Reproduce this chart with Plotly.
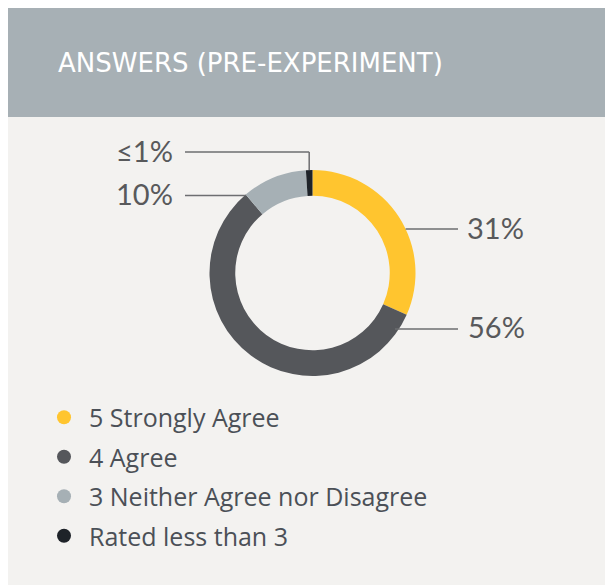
import math
import plotly.graph_objects as go

# ---- data ----
categories = ["5 Strongly Agree", "4 Agree", "3 Neither Agree nor Disagree", "Rated less than 3"]
values = [31, 56, 10, 1]
value_labels = ["31%", "56%", "10%", "≤1%"]
colors = ["#FFC52F", "#55575B", "#A6B0B5", "#1E2329"]
title_text = "ANSWERS (PRE-EXPERIMENT)"

W, H = 613, 585
OFF = 8  # page body margin
FONT = "Lato, 'Open Sans', sans-serif"
FONT2 = "'Open Sans', sans-serif"
FONT_T = "'DejaVu Sans', sans-serif"
TEXT_GRAY = "#58595B"
LINE_GRAY = "#6D6E71"

def px(x):
    return (x - OFF) / W

def py(y):
    return 1 - (y - OFF) / H

# donut geometry (screen pixels)
cx, cy, R = 312.5, 273.0, 103.0

fig = go.Figure()

fig.add_trace(go.Pie(
    labels=categories,
    values=values,
    marker=dict(colors=colors, line=dict(width=0)),
    hole=0.75,
    sort=False,
    direction="clockwise",
    rotation=0,
    textinfo="none",
    hoverinfo="label+percent",
    showlegend=False,
    domain=dict(x=[px(cx - R), px(cx + R)], y=[py(cy + R), py(cy - R)]),
))

# legend entries (circle markers)
for cat, col in zip(categories, colors):
    fig.add_trace(go.Scatter(
        x=[None], y=[None], mode="markers", name=cat,
        legendgroup=cat,
        marker=dict(color=col, size=14, symbol="circle"),
    ))

shapes = [
    dict(type="rect", xref="paper", yref="paper", x0=0, x1=1, y0=py(117), y1=1.01,
         fillcolor="#A7B0B5", line=dict(width=0), layer="below"),
    dict(type="rect", xref="paper", yref="paper", x0=0, x1=1, y0=-0.01, y1=py(117),
         fillcolor="#F3F2F0", line=dict(width=0), layer="below"),
]

total = sum(values)
cum = []
c = 0
for v in values:
    cum.append(c)
    c += v

def ring_point(frac):
    a = 2 * math.pi * frac
    return cx + R * math.sin(a), cy - R * math.cos(a)

annotations = [
    dict(text=title_text, x=px(56), y=py(63), xref="paper", yref="paper",
         xanchor="left", yanchor="middle", showarrow=False,
         font=dict(family=FONT_T, size=26, color="white")),
]

def line(x0, y0, x1, y1):
    return dict(type="line", xref="paper", yref="paper", x0=px(x0), y0=py(y0), x1=px(x1), y1=py(y1),
                line=dict(color=LINE_GRAY, width=1.5))

label_x_right = 458
label_x_left = 185

# 31% : right side
y31 = 229
x_ring = cx + math.sqrt(R ** 2 - (y31 - cy) ** 2)
shapes.append(line(x_ring, y31, label_x_right, y31))
# 56% : right side
y56 = 329
x_ring = cx + math.sqrt(R ** 2 - (y56 - cy) ** 2)
shapes.append(line(x_ring - 4, y56, label_x_right, y56))
# 10% : ends at boundary between 4 Agree and 3 Neither
bx, by = ring_point(cum[2] / total)
shapes.append(line(label_x_left, by + 1, bx, by + 1))
# <=1% : vertical to middle of the small slice
sx, sy = ring_point((cum[3] + values[3] / 2) / total)
y1p = 152
shapes.append(line(label_x_left, y1p, sx, y1p))
shapes.append(line(sx, y1p, sx, sy))

lab_font = dict(family=FONT, size=29, color=TEXT_GRAY)
annotations += [
    dict(text=value_labels[0], x=px(465), y=py(y31 - 2), xanchor="left", yanchor="middle"),
    dict(text=value_labels[1], x=px(466), y=py(y56 - 2), xanchor="left", yanchor="middle"),
    dict(text=value_labels[2], x=px(175), y=py(by - 1), xanchor="right", yanchor="middle"),
    dict(text=value_labels[3], x=px(175), y=py(y1p - 2), xanchor="right", yanchor="middle"),
]
for a in annotations[1:]:
    a.update(xref="paper", yref="paper", showarrow=False, font=lab_font)

fig.update_layout(
    width=W, height=H,
    margin=dict(l=0, r=0, t=0, b=0),
    paper_bgcolor="white",
    plot_bgcolor="rgba(0,0,0,0)",
    xaxis=dict(visible=False),
    yaxis=dict(visible=False),
    shapes=shapes,
    annotations=annotations,
    showlegend=True,
    legend=dict(
        x=px(39), y=py(394.5), xanchor="left", yanchor="top",
        bgcolor="rgba(0,0,0,0)",
        font=dict(family=FONT2, size=25, color="#4B5057"),
        itemsizing="trace",
        tracegroupgap=4,
        itemwidth=40,
    ),
)

fig.write_html("out.html")
